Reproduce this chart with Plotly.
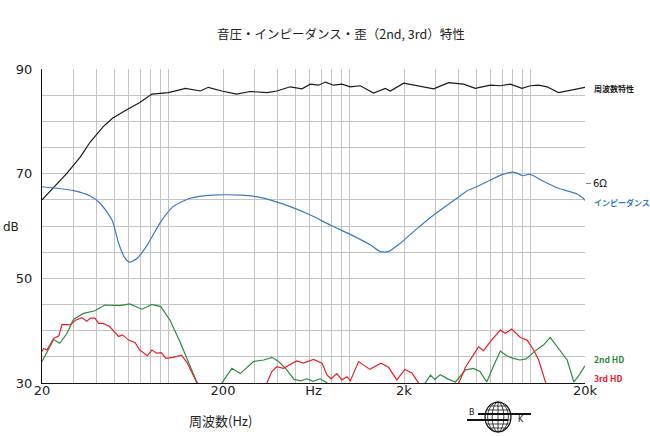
import math
import plotly.graph_objects as go

# ---------------- data ----------------
spl_hz = [20, 27.5, 32.6, 37.0, 43.6, 49.0, 58.8, 69.4, 81, 100, 124, 150, 166, 197, 238, 282, 351, 396,
          471, 546, 607, 675, 735, 817, 908, 1010, 1148, 1358, 1577, 1680, 1990, 2360, 2918, 3526, 4266,
          4954, 5998, 6808, 7730, 8974, 9976, 11090, 12330, 14290, 16590, 19230, 20000]
spl_db = [65.0, 70.1, 73.2, 76.1, 79.0, 80.6, 82.2, 83.6, 85.2, 85.5, 86.3, 85.8, 86.5, 85.8, 85.2, 85.7, 85.5, 85.8,
          86.6, 86.2, 87.1, 86.9, 87.5, 86.9, 87.1, 86.6, 86.8, 85.4, 86.3, 85.8, 87.3, 86.8, 86.2, 87.4, 87.1,
          86.3, 86.9, 86.8, 87.1, 86.3, 86.8, 86.9, 86.6, 85.5, 86.0, 86.4, 86.5]

imp_hz = [20, 29.9, 37.1, 42.0, 48.8, 53.0, 57.6, 61.0, 66.9, 76.4, 90.6, 106, 131.6, 177, 249, 307, 379,
          471, 607, 782, 1010, 1302, 1477, 1640, 1907, 2360, 2918, 3920, 4450, 5050, 6000, 7090, 7880,
          8410, 9090, 9890, 11830, 14030, 15940, 18110, 19660, 20000]
imp_db = [67.5, 66.75, 65.7, 64.3, 61.1, 56.7, 53.8, 53.1, 53.8, 56.4, 60.8, 63.7, 65.3, 65.9, 65.9, 65.6, 64.8,
          63.7, 62.1, 60.2, 58.4, 56.4, 55.1, 55.1, 56.7, 59.5, 62.1, 65.3, 66.7, 67.5, 68.8, 69.9, 70.3,
          70.1, 69.6, 69.9, 68.5, 67.3, 66.7, 66.1, 65.2, 64.9]

hd2_hz = [20, 21.3, 23.2, 25.1, 27.5, 29.9, 33.9, 39.2, 44.4, 53.8, 61, 71.3, 81, 90.6, 102, 116.6, 131.7, 143, 150,
          None,
          190, 197, 224, 249, 295, 336, 372, 406, 450, 494, 540, 580, 630, 688, 752, 780,
          None,
          2560, 2624, 2800, 2960, 3170, 3530, 3850, 4370, 4850, 5250, 5730, 6220, 6810, 7390, 8020, 8720, 9470,
          10500, 11830, 12840, 14300, 15940, 17360, 18310, 19650, 20000]
hd2_db = [34.1, 36.0, 38.3, 37.6, 39.5, 42.2, 43.3, 43.8, 44.9, 44.8, 45.1, 44.1, 45.0, 44.6, 42.0, 37.6, 33.1, 30.0, 28.5,
          None,
          29.0, 30.0, 32.8, 31.8, 34.1, 34.4, 34.9, 34.1, 32.5, 30.7, 30.4, 30.8, 30.3, 30.8, 30.0, 29.5,
          None,
          29.5, 30.0, 31.5, 30.7, 31.6, 30.7, 30.2, 32.5, 32.8, 32.2, 30.2, 33.1, 36.1, 35.2, 34.7, 34.4, 34.6,
          36.0, 37.3, 38.7, 36.6, 34.4, 30.2, 31.2, 32.9, 33.3]

hd3_hz = [20, 20.4, 21.3, 23.2, 24.8, 25.8, 28.6, 30.6, 33.2, 35.3, 37.1, 39.2, 41.1, 43.6, 47.3, 53.0, 55.7, 60.2,
          65.4, 69.4, 76.4, 81, 86, 91.2, 96.8, 106, 118, 126.5, 135.5, 143, 150,
          None,
          340, 351, 372, 396, 431, 511, 555, 633, 705, 752, 790, 851, 908, 968, 1010, 1122, 1296, 1490, 1644,
          1825, 2022, 2214, 2360, 2460,
          None,
          3900, 4040, 4370, 4850, 5160, 5500, 6000, 6810, 7260, 7880, 8790, 9570, 10400, 11090, 12070, 12400]
hd3_db = [36.0, 36.6, 36.3, 38.5, 39.0, 41.2, 41.1, 42.0, 42.5, 41.8, 42.4, 42.4, 41.4, 41.4, 40.8, 38.9, 39.2, 38.2,
          37.7, 36.3, 35.2, 36.3, 35.7, 35.8, 34.7, 34.9, 35.3, 33.9, 31.8, 30.0, 28.8,
          None,
          29.0, 30.2, 32.2, 33.1, 32.8, 34.2, 33.8, 34.5, 33.8, 31.5, 30.8, 31.8, 30.6, 31.2, 30.4, 34.1, 32.6, 33.8, 33.0,
          30.6, 32.6, 31.9, 30.6, 29.5,
          None,
          29.5, 30.2, 33.0, 35.3, 36.9, 36.2, 37.9, 40.1, 39.5, 40.3, 38.7, 38.2, 36.3, 34.4, 30.2, 29.0]

grid_hz = [20, 30, 40, 50, 60, 70, 80, 90, 100, 200, 300, 400, 500, 600, 700, 800, 900, 1000,
           2000, 3000, 4000, 5000, 6000, 7000, 8000, 9000, 10000, 20000]
label_hz = [20, 200, 632.5, 2000, 20000]
label_txt = ["20", "200", "Hz", "2k", "20k"]
y_ticks = [30, 50, 70, 90]
ohm_tick = [68.1]
ohm_txt = ["6Ω"]

series_names = ["周波数特性", "インピーダンス", "2nd HD", "3rd HD"]
series_colors = ["#1a1a1a", "#3a7bbf", "#2a8c3c", "#e8202a"]

# ---------------- figure ----------------
W, H = 650, 436
L, R, T, B = 42, 65, 69, 53
PW, PH = W - L - R, H - T - B


def px(xp):
    return (xp - L) / PW


def py(yp):
    return (H - B - yp) / PH


fig = go.Figure()
fig.add_trace(go.Scatter(x=spl_hz, y=spl_db, mode="lines", line=dict(color=series_colors[0], width=1.2),
                         name=series_names[0]))
fig.add_trace(go.Scatter(x=imp_hz, y=imp_db, mode="lines",
                         line=dict(color=series_colors[1], width=1.2, shape="spline", smoothing=0.6),
                         name=series_names[1]))
fig.add_trace(go.Scatter(x=hd2_hz, y=hd2_db, mode="lines", line=dict(color=series_colors[2], width=1.2),
                         name=series_names[2], connectgaps=False))
fig.add_trace(go.Scatter(x=hd3_hz, y=hd3_db, mode="lines", line=dict(color=series_colors[3], width=1.2),
                         name=series_names[3], connectgaps=False))
# helper traces so the label axes are drawn
fig.add_trace(go.Scatter(x=[20, 20000], y=[None, None], xaxis="x2", yaxis="y", mode="lines",
                         showlegend=False, hoverinfo="skip"))
fig.add_trace(go.Scatter(x=[20, 20000], y=[None, None], xaxis="x", yaxis="y2", mode="lines",
                         showlegend=False, hoverinfo="skip"))

GRID = "#c4c4c4"
num_font = dict(family="DejaVu Sans, Verdana, sans-serif", size=13, color="#222")
jp = "Noto Sans CJK JP, sans-serif"

fig.update_layout(
    width=W, height=H,
    margin=dict(l=L, r=R, t=T, b=B),
    paper_bgcolor="white", plot_bgcolor="white",
    showlegend=False,
    xaxis=dict(type="log", range=[1.30103, 4.30103], tickvals=grid_hz, showticklabels=False,
               showgrid=True, gridcolor=GRID, gridwidth=1, ticks="",
               showline=True, linecolor="#111", linewidth=1.2, zeroline=False),
    xaxis2=dict(type="log", range=[1.30103, 4.30103], overlaying="x", anchor="y", side="bottom",
                tickvals=label_hz, ticktext=label_txt, showgrid=False, ticks="",
                tickfont=num_font, showline=False, zeroline=False, ticklabelstandoff=-2),
    yaxis=dict(range=[30, 90], tickvals=y_ticks, showgrid=True, gridcolor=GRID, gridwidth=1,
               minor=dict(dtick=5, tick0=0, showgrid=True, gridcolor=GRID, gridwidth=1, ticks=""),
               ticks="", tickfont=num_font, showline=True, linecolor="#111", linewidth=1.2,
               zeroline=False, ticklabelstandoff=6),
    yaxis2=dict(range=[30, 90], overlaying="y", side="right", anchor="x", tickvals=ohm_tick, ticktext=ohm_txt,
                ticks="outside", ticklen=5, tickcolor="#888", showgrid=False, showline=False, zeroline=False,
                tickfont=dict(family="DejaVu Sans, sans-serif", size=10, color="#222")),
)

ann = []
ann.append(dict(text="音圧・インピーダンス・歪（2nd, 3rd）特性", x=px(341), y=py(33), xref="paper", yref="paper",
                showarrow=False, xanchor="center", yanchor="middle",
                font=dict(family=jp, size=12.5, color="#222")))
ann.append(dict(text="dB", x=px(11), y=py(227), xref="paper", yref="paper", showarrow=False,
                xanchor="center", yanchor="middle", font=dict(family="DejaVu Sans, sans-serif", size=12, color="#222")))
ann.append(dict(text="周波数(Hz)", x=px(220), y=py(420), xref="paper", yref="paper", showarrow=False,
                xanchor="center", yanchor="middle", font=dict(family=jp, size=13, color="#222")))
label_y = [88, 202, 359, 378]
label_size = [8, 8, 8.5, 8.5]
for name, col, yy, sz in zip(series_names, series_colors, label_y, label_size):
    ann.append(dict(text="<b>%s</b>" % name, x=px(592), y=py(yy), xref="paper", yref="paper", showarrow=False,
                    xanchor="left", yanchor="middle", font=dict(family=jp, size=sz, color=col)))
# logo letters
ann.append(dict(text="B", x=px(472), y=py(412), xref="paper", yref="paper", showarrow=False,
                xanchor="center", yanchor="middle", font=dict(family="DejaVu Sans, sans-serif", size=8, color="#111")))
ann.append(dict(text="K", x=px(521), y=py(419), xref="paper", yref="paper", showarrow=False,
                xanchor="center", yanchor="middle", font=dict(family="DejaVu Sans, sans-serif", size=8, color="#111")))
fig.update_layout(annotations=ann)

# logo (decorative globe)
cx, cy, rx, ry = 498, 417, 13, 15
shapes = []
shapes.append(dict(type="circle", xref="paper", yref="paper", x0=px(cx - rx), x1=px(cx + rx),
                   y0=py(cy + ry), y1=py(cy - ry), line=dict(color="#111", width=1.2)))
for k in (0.45, 0.8):
    shapes.append(dict(type="circle", xref="paper", yref="paper", x0=px(cx - rx * k), x1=px(cx + rx * k),
                       y0=py(cy + ry), y1=py(cy - ry), line=dict(color="#111", width=0.8)))
shapes.append(dict(type="line", xref="paper", yref="paper", x0=px(cx), x1=px(cx), y0=py(cy + ry), y1=py(cy - ry),
                   line=dict(color="#111", width=0.8)))
for dy in (-11, -7, -3, 3, 7, 11):
    half = rx * math.sqrt(max(0.0, 1 - (dy / ry) ** 2))
    shapes.append(dict(type="line", xref="paper", yref="paper", x0=px(cx - half), x1=px(cx + half),
                       y0=py(cy + dy), y1=py(cy + dy), line=dict(color="#111", width=0.8)))
shapes.append(dict(type="line", xref="paper", yref="paper", x0=px(478), x1=px(531), y0=py(414), y1=py(414),
                   line=dict(color="#111", width=2.2)))
shapes.append(dict(type="line", xref="paper", yref="paper", x0=px(467), x1=px(508), y0=py(420), y1=py(420),
                   line=dict(color="#111", width=2.2)))
fig.update_layout(shapes=shapes)

fig.write_html("out.html")
